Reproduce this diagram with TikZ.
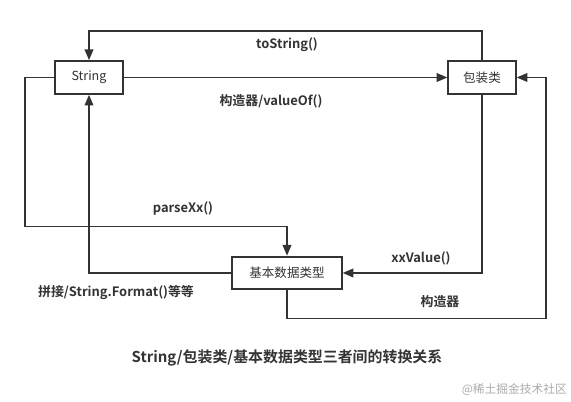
\documentclass[tikz,border=0pt]{standalone}
\usepackage{fontspec}
\setmainfont{Noto Sans CJK SC}
\newfontfamily\cjkb{Noto Sans CJK SC Bold}
\usetikzlibrary{arrows.meta}
\definecolor{ln}{HTML}{333333}
\definecolor{wm}{HTML}{AAAAAA}
\begin{document}
\begin{tikzpicture}[x=0.75pt,y=-0.75pt,
  box/.style={draw=ln,line width=1.5pt,minimum width=50.5pt,minimum height=24.5pt,inner sep=0pt,font=\fontsize{9.4}{10}\selectfont,text=ln},
  conn/.style={draw=ln,line width=1.1pt,-{Triangle[length=8pt,width=6.5pt]}},
  lbl/.style={font=\cjkb\fontsize{9.7}{11}\selectfont,text=ln,inner sep=0pt}]
\useasboundingbox (0,0) rectangle (571,402);
\node[box] (str) at (89,77.5) {String};
\node[box] (wrap) at (482,77.5) {包装类};
\node[box,minimum width=82pt] (prim) at (287,273) {基本数据类型};
% toString
\draw[conn] (wrap.north) -- (482,31) -| (str.north);
% constructor/valueOf
\draw[conn] (str.east) -- (wrap.west);
% parseXx
\draw[conn] (str.west) -- (25,77.5) |- (287,226.5) -- (prim.north);
% concat
\draw[conn] (prim.west) -| (str.south);
% xxValue
\draw[conn] (wrap.south) |- (prim.east);
% constructor
\draw[conn] (prim.south) |- (546,318.5) |- (wrap.east);
\node[lbl] (l1) at (287,45) {toString()};
\node[lbl] (l2) at (271,101) {构造器/valueOf()};
\node[lbl] (l3) at (183,209) {parseXx()};
\node[lbl] (l4) at (116,293) {拼接/String.Format()等等};
\node[lbl] (l5) at (421,258) {xxValue()};
\node[lbl] (l6) at (440,302) {构造器};
\node[font=\cjkb\fontsize{11.2}{13}\selectfont,text=ln] (cap) at (287,358) {String/包装类/基本数据类型三者间的转换关系};
\node[font=\fontsize{8.8}{10}\selectfont,text=wm,anchor=east,inner sep=0pt] (wmk) at (567,390) {@稀土掘金技术社区};
\end{tikzpicture}
\end{document}
